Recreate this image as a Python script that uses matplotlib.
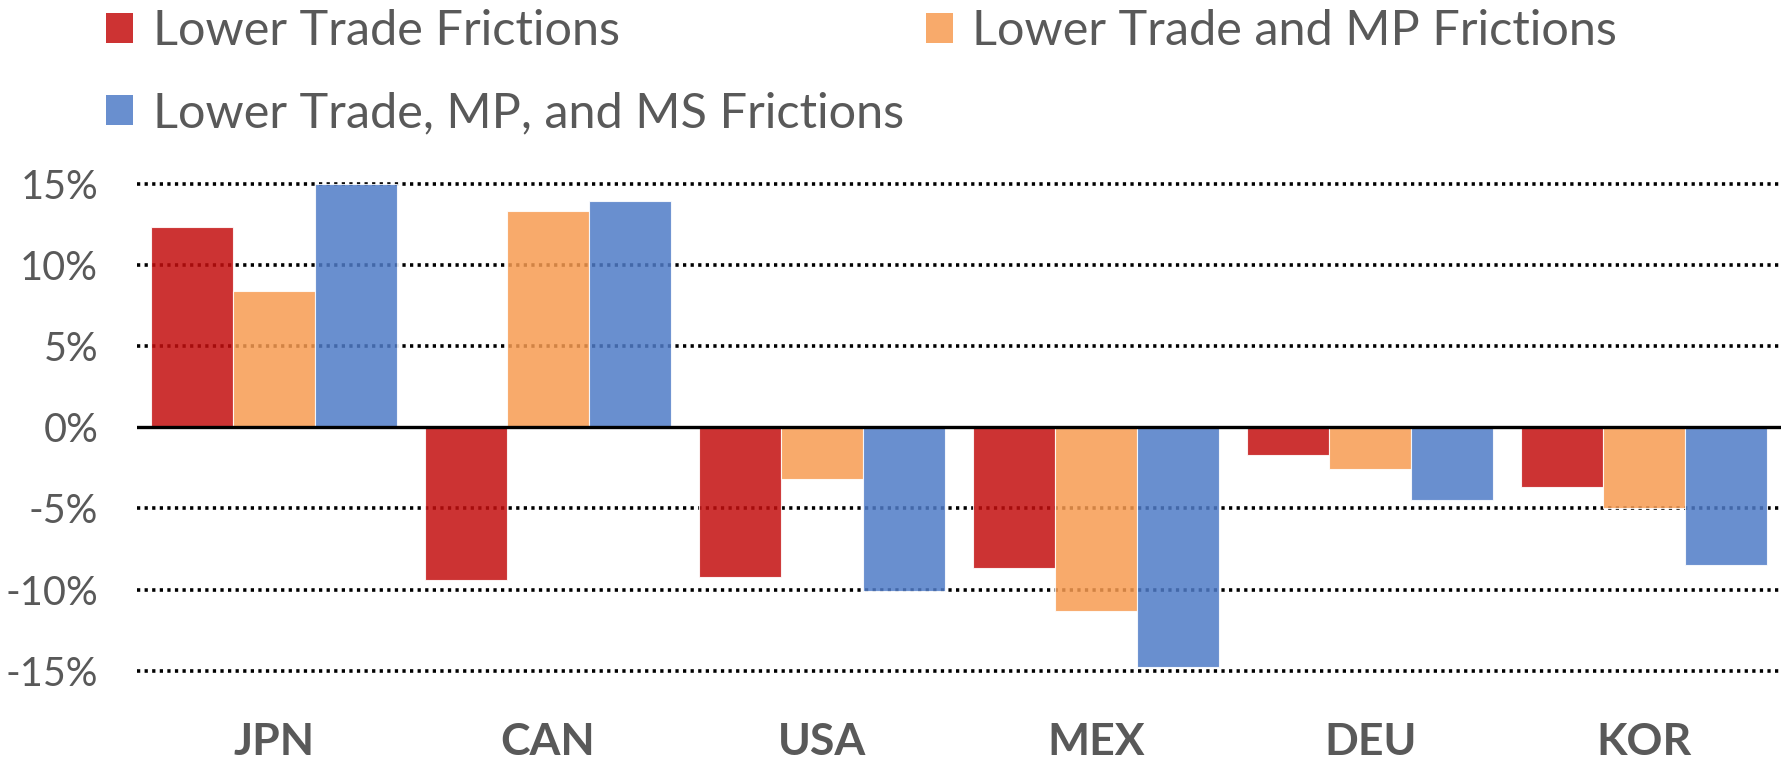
import matplotlib.pyplot as plt
import numpy as np
from matplotlib.patches import Patch

plt.rcParams["font.family"] = ["Lato", "DejaVu Sans"]

countries = ["JPN", "CAN", "USA", "MEX", "DEU", "KOR"]
series_names = [
    "Lower Trade Frictions",
    "Lower Trade and MP Frictions",
    "Lower Trade, MP, and MS Frictions",
]
trade = [12.3, -9.4, -9.2, -8.7, -1.7, -3.7]
trade_mp = [8.4, 13.3, -3.2, -11.3, -2.6, -5.0]
trade_mp_ms = [15.0, 13.9, -10.1, -14.8, -4.5, -8.5]
y_ticks = [-15, -10, -5, 0, 5, 10, 15]

# colours as they look on white; bars are drawn a bit transparent so the
# dotted grid shows through darker, like the original
shown_colors = ["#CD3333", "#F8AA6B", "#698FCF"]
bar_alpha = 0.85
TEXT_GRAY = "#595959"


def base_color(hex_color, alpha):
    rgb = np.array([int(hex_color[i:i + 2], 16) for i in (1, 3, 5)]) / 255
    return tuple(np.clip((rgb - (1 - alpha)) / alpha, 0, 1))


def main():
    fig = plt.figure(figsize=(17.85, 7.59), dpi=100)
    ax = fig.add_axes([0.0768, 0.0949, 0.921, 0.6847])

    x = np.arange(len(countries))
    width = 0.3
    values = [trade, trade_mp, trade_mp_ms]

    for i, (vals, color) in enumerate(zip(values, shown_colors)):
        ax.bar(
            x + (i - 1) * width,
            vals,
            width=width,
            color=base_color(color, bar_alpha),
            alpha=bar_alpha,
            edgecolor="white",
            linewidth=0.8,
            zorder=2,
        )

    for t in y_ticks:
        if t == 0:
            continue
        ax.axhline(t, color="black", linewidth=2.6,
                   linestyle=(0, (0.9, 1.2)), zorder=1)
    ax.axhline(0, color="black", linewidth=2.4, zorder=3)

    ax.set_xlim(-0.5, len(countries) - 0.5)
    ax.set_ylim(-16, 16)
    ax.set_yticks(y_ticks, labels=[f"{t}%" for t in y_ticks])
    ax.set_xticks(x, labels=countries)
    ax.tick_params(axis="y", length=0, pad=28, labelsize=28.5,
                   labelcolor=TEXT_GRAY)
    ax.tick_params(axis="x", length=0, pad=25, labelsize=32,
                   labelcolor=TEXT_GRAY)
    for lbl in ax.get_xticklabels():
        lbl.set_fontweight("bold")
    for side in ax.spines.values():
        side.set_visible(False)

    handles = [Patch(facecolor=c, edgecolor="none") for c in shown_colors]
    order = [0, 2, 1]
    fig.legend(
        [handles[i] for i in order],
        [series_names[i] for i in order],
        loc="upper left",
        bbox_to_anchor=(106 / 1785, 0.988),
        ncol=2,
        frameon=False,
        fontsize=35,
        labelcolor=TEXT_GRAY,
        handlelength=0.56,
        handleheight=0.56,
        handletextpad=0.4,
        columnspacing=0.45,
        labelspacing=0.78,
        borderpad=0.0,
        borderaxespad=0,
    )

    fig.savefig("out.png", dpi=100)
    plt.close(fig)


if __name__ == "__main__":
    main()
